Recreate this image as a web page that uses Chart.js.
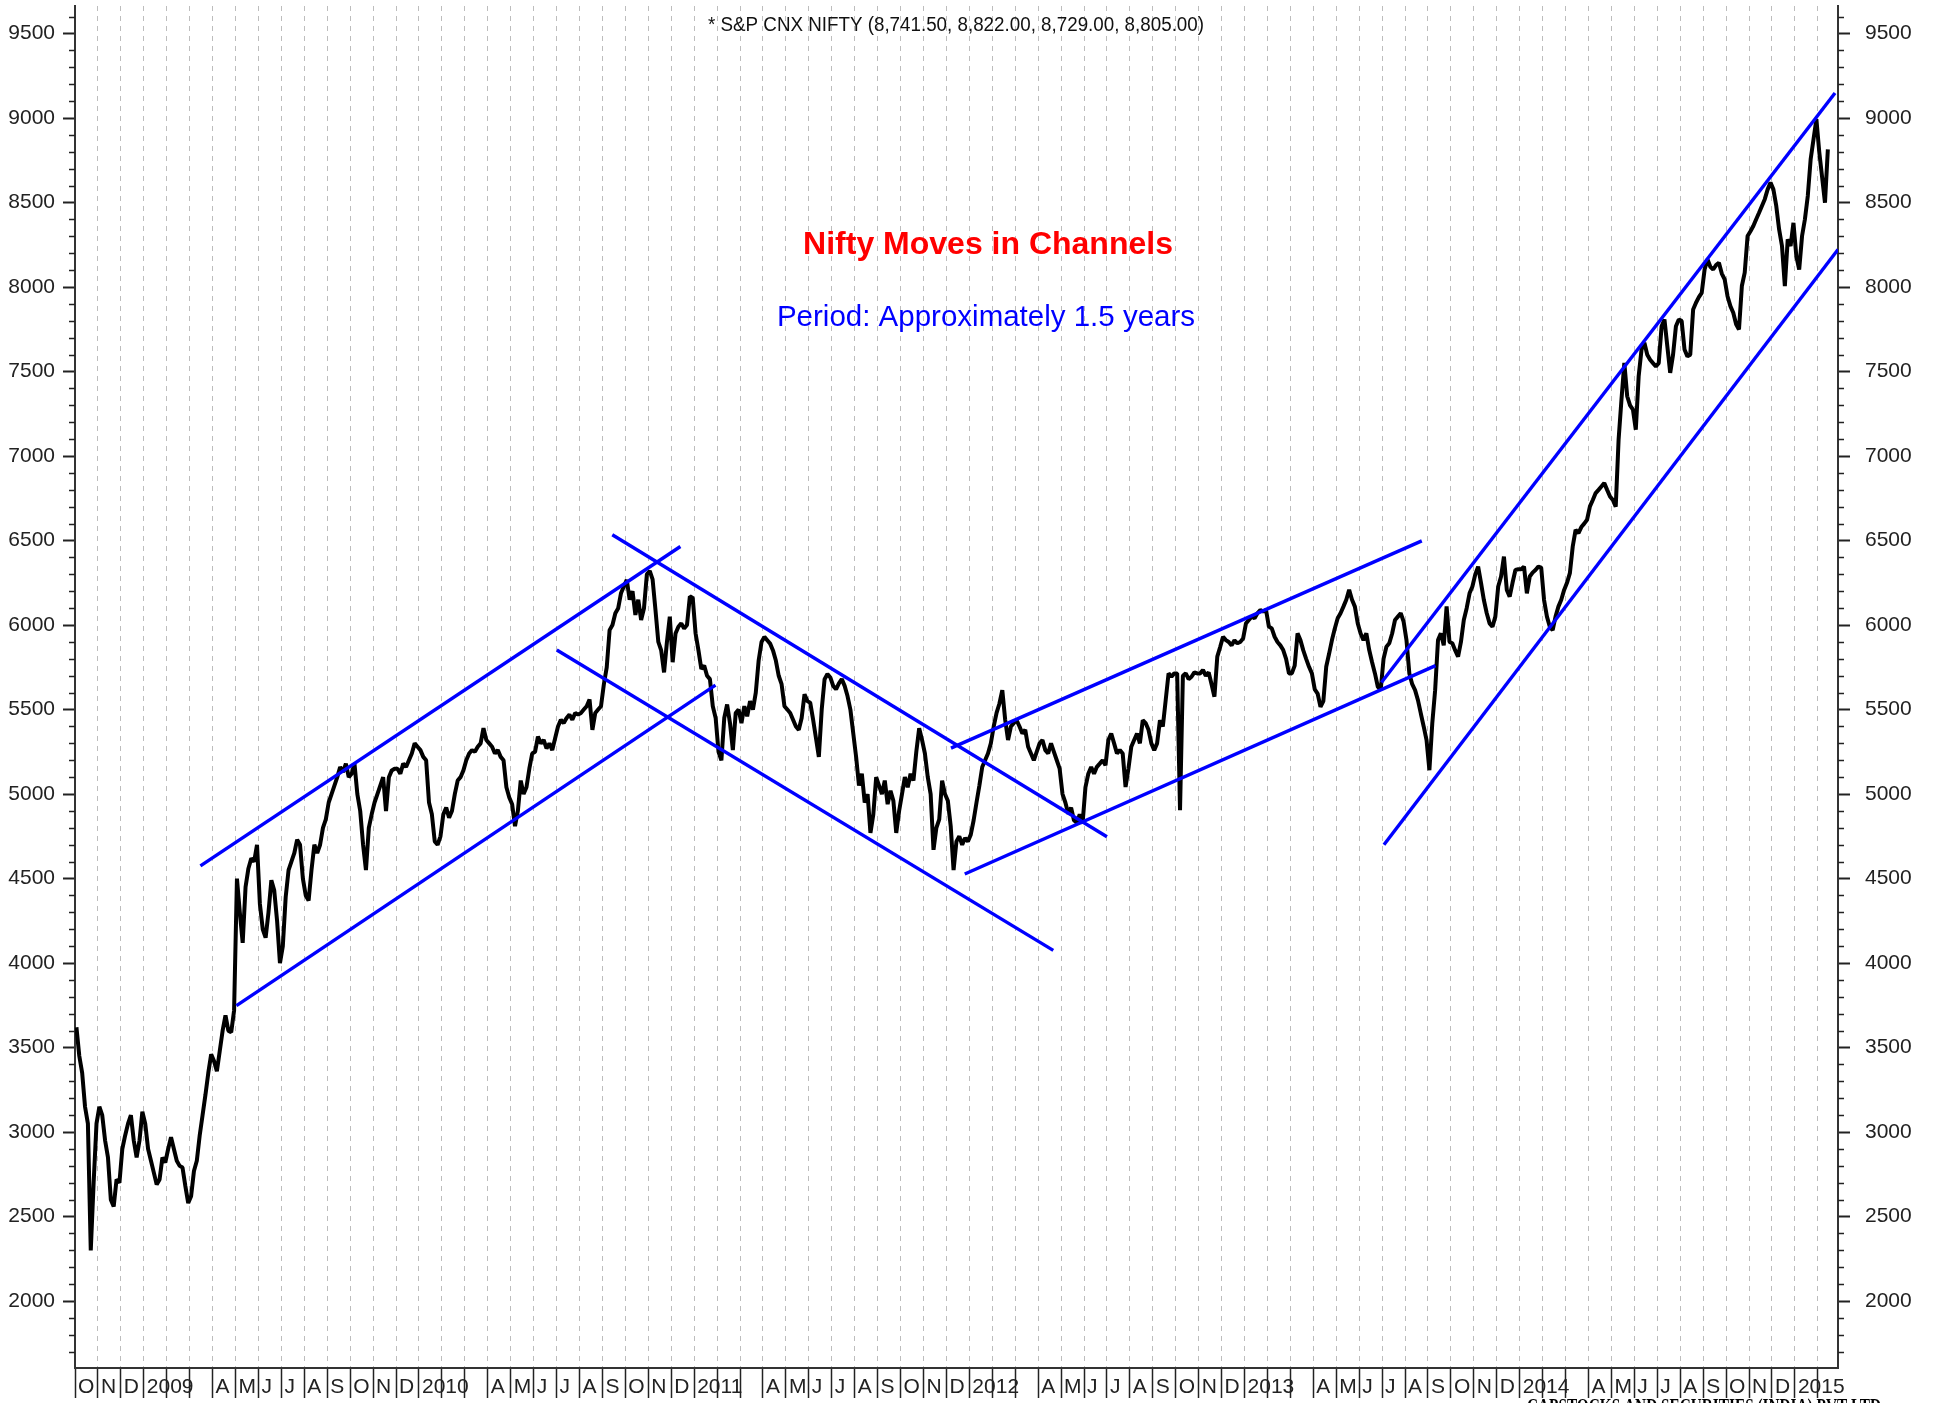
<!DOCTYPE html>
<html>
<head>
<meta charset="utf-8">
<title>Nifty Moves in Channels</title>
<script src="https://cdn.jsdelivr.net/npm/chart.js@4.4.1/dist/chart.umd.min.js"></script>
<style>
  html, body { margin: 0; padding: 0; background: #fff; }
  #wrap { position: relative; width: 1934px; height: 1403px; }
</style>
</head>
<body>
<div id="wrap"><canvas id="myChart"></canvas></div>
<script>
// ----------- DATA ------------
// x unit = month, 0 = start of October 2008. Eight readings per month.
const closes2008 = [
  3620, 3450, 3350, 3150, 3050, 2300, 2700, 3050,
  3150, 3100, 2950, 2850, 2600, 2560, 2720, 2700,
  2900, 2980, 3050, 3100, 2950, 2850, 2950, 3120
];
const closes2009 = [
  3050, 2900, 2830, 2760, 2690, 2720, 2850, 2820,
  2900, 2970, 2900, 2830, 2800, 2790, 2680, 2580,
  2620, 2770, 2830, 2980, 3100, 3220, 3350, 3460,
  3420, 3360, 3480, 3600, 3690, 3600, 3590, 3720,
  4500, 4300, 4120, 4450, 4560, 4620, 4600, 4700,
  4350, 4200, 4150, 4300, 4490, 4430, 4250, 4000,
  4100, 4390, 4550, 4600, 4650, 4730, 4700, 4500,
  4400, 4370, 4550, 4700, 4650, 4700, 4800, 4850,
  4950, 5000, 5050, 5100, 5160, 5130, 5180, 5100,
  5120, 5180, 5000, 4900, 4700, 4550, 4800, 4880,
  4950, 5000, 5050, 5100, 4900, 5100, 5140, 5150,
  5150, 5120, 5180, 5160, 5200, 5240, 5300, 5280
];
const closes2010 = [
  5260, 5220, 5200, 4950, 4880, 4720, 4700, 4750,
  4880, 4920, 4860, 4900, 5000, 5080, 5100, 5140,
  5200, 5240, 5260, 5250, 5280, 5300, 5390, 5320,
  5300, 5280, 5240, 5260, 5220, 5200, 5040, 4980,
  4940, 4810, 4900, 5080, 5000, 5040, 5150, 5240,
  5250, 5340, 5300, 5320, 5270, 5300, 5260, 5330,
  5400, 5440, 5420, 5450, 5470, 5440, 5480, 5470,
  5480, 5500, 5520, 5560, 5380, 5480, 5500, 5520,
  5650, 5750, 5970, 6000, 6070, 6100, 6190, 6230,
  6267, 6150, 6200, 6060, 6150, 6030, 6100, 6300,
  6320, 6270, 6090, 5900, 5850, 5720, 5900, 6050,
  5780, 5950, 5990, 6010, 5980, 6000, 6170, 6160
];
const closes2011 = [
  5950, 5850, 5740, 5760, 5700, 5680, 5520, 5450,
  5250, 5200, 5450, 5530, 5420, 5260, 5480, 5500,
  5420, 5520, 5460, 5550, 5500, 5600, 5790, 5900,
  5930, 5910, 5890, 5850, 5790, 5700, 5650, 5520,
  5500, 5480, 5440, 5400, 5380, 5450, 5590, 5550,
  5540, 5440, 5330, 5220, 5500, 5680, 5710, 5690,
  5640, 5620, 5655, 5680, 5640, 5580, 5500, 5360,
  5220, 5050, 5120, 4950, 5000, 4770, 4880, 5100,
  5050, 5000, 5080, 4940, 5020, 4960, 4770, 4900,
  5000, 5100, 5040, 5120, 5080, 5250, 5390, 5320,
  5240, 5100, 5000, 4670, 4800, 4850, 5080, 5000,
  4960, 4810, 4550, 4720, 4750, 4700, 4740, 4720
];
const closes2012 = [
  4760, 4845, 4950, 5050, 5160, 5200, 5240, 5300,
  5400, 5480, 5536, 5615, 5440, 5320, 5400, 5420,
  5437, 5400, 5358, 5380, 5280, 5240, 5200, 5250,
  5300, 5320, 5260, 5240, 5300, 5250, 5200, 5150,
  5000, 4950, 4884, 4920, 4845, 4830, 4880, 4825,
  5040, 5120, 5160, 5120, 5161, 5180, 5200, 5170,
  5320, 5358, 5300, 5240, 5260, 5240, 5042, 5150,
  5280, 5320, 5358, 5300, 5437, 5420, 5380, 5300,
  5260, 5300, 5437, 5400, 5556, 5714, 5694, 5714,
  5714, 4904, 5700, 5714, 5680, 5694, 5720, 5714,
  5714, 5734, 5700, 5720, 5650, 5576, 5813, 5870,
  5931, 5911, 5900, 5880, 5910, 5892, 5900, 5920
];
const closes2013 = [
  6010, 6030, 6050, 6040, 6070, 6089, 6080, 6089,
  5991, 5980, 5931, 5900, 5880, 5852, 5800, 5714,
  5714, 5760, 5951, 5911, 5850, 5800, 5753, 5714,
  5620, 5595, 5516, 5550, 5753, 5830, 5911, 5980,
  6040, 6070, 6109, 6150, 6208, 6150, 6109, 6010,
  5950, 5911, 5951, 5852, 5780, 5714, 5635, 5615,
  5800, 5872, 5892, 5950, 6030, 6050, 6070, 6020,
  5911, 5714, 5650, 5615, 5556, 5477, 5400, 5319,
  5141, 5418, 5615, 5911, 5951, 5880, 6110, 5900,
  5892, 5850, 5813, 5900, 6030, 6100, 6188, 6228,
  6300, 6346, 6250, 6148, 6070, 6010, 5990, 6050,
  6228, 6287, 6405, 6208, 6168, 6250, 6326, 6330
];
const closes2014 = [
  6330, 6346, 6188, 6287, 6310, 6326, 6346, 6340,
  6148, 6050, 5990, 5970, 6050, 6109, 6150, 6208,
  6250, 6307, 6465, 6563, 6544, 6580, 6600, 6623,
  6702, 6740, 6781, 6800, 6820, 6840, 6800, 6761,
  6740, 6700, 7097, 7334, 7551, 7354, 7300, 7275,
  7156, 7472, 7630, 7670, 7600, 7570, 7550, 7531,
  7550, 7768, 7808, 7650, 7492, 7600, 7768, 7808,
  7800, 7630, 7590, 7600, 7867, 7907, 7940, 7966,
  8104, 8164, 8120, 8104, 8130, 8144, 8080, 8045,
  7946, 7887, 7848, 7780, 7749, 8006, 8085, 8302,
  8330, 8361, 8401, 8440, 8480, 8520, 8578, 8618,
  8578, 8480, 8341, 8243, 8006, 8282, 8243, 8380
];
const closes2015 = [
  8183, 8104, 8302, 8401, 8539, 8756, 8875, 8993,
  8800, 8650, 8499, 8815
];
const yearSeries = [closes2008, closes2009, closes2010, closes2011, closes2012, closes2013, closes2014, closes2015];
const yearStartMonth = [0, 3, 15, 27, 39, 51, 63, 75];
const readingsPerMonth = 8;

// channel lines (month, value) at both ends
const chanFromM = [5.47, 7.04, 23.43, 21.01, 38.2, 38.8, 56.97, 57.08];
const chanFromV = [4575, 3748, 6534, 5852, 5272, 4527, 5660, 4700];
const chanToM   = [26.4, 27.93, 45.0, 42.66, 58.73, 59.33, 76.75, 76.88];
const chanToV   = [6465, 5645, 4747, 4075, 6498, 5760, 9148, 8222];

// axis labels
const monthLetters = ['J', 'F', 'M', 'A', 'M', 'J', 'J', 'A', 'S', 'O', 'N', 'D'];
const firstMonth = 9;      // October
const firstYear = 2008;
const monthCount = 77;
const xMax = 76.88;
const yMin = 1604;
const yMax = 9663;
const yLabelValues = [2000, 2500, 3000, 3500, 4000, 4500, 5000, 5500, 6000, 6500, 7000, 7500, 8000, 8500, 9000, 9500];

const titleText = '* S&P CNX NIFTY (8,741.50, 8,822.00, 8,729.00, 8,805.00)';
const headText = 'Nifty Moves in Channels';
const subText = 'Period: Approximately 1.5 years';
const footText = 'CAPSTOCKS AND SECURITIES (INDIA) PVT LTD';

const NARROW = '"Liberation Sans Narrow", "Liberation Sans", Arial, sans-serif';

// ----------- HELPERS ------------
function priceSeries() {
  const pts = [];
  yearSeries.forEach((arr, yi) => {
    arr.forEach((v, i) => {
      pts.push({x: yearStartMonth[yi] + (i + 0.5) / readingsPerMonth, y: v});
    });
  });
  return pts;
}

function monthLabel(m) {
  const cal = (firstMonth + m) % 12;
  const yr = firstYear + Math.floor((firstMonth + m) / 12);
  if (cal === 0) return String(yr);
  if (cal === 1 || cal === 2) return '';
  return monthLetters[cal];
}

const monthTicks = [];
for (let i = 0; i < monthCount; i++) monthTicks.push(i);

// no label overhang padding, so the plot area keeps its place
function noPad(s) {
  s.paddingTop = 0; s.paddingBottom = 0; s.paddingLeft = 0; s.paddingRight = 0;
}

// minor y ticks every 100 on both axes
const minorTicks = {
  id: 'minorTicks',
  afterDraw(chart) {
    const {ctx, chartArea} = chart;
    const ys = chart.scales.y;
    ctx.save();
    ctx.strokeStyle = '#222';
    ctx.lineWidth = 1.5;
    for (let v = Math.ceil(ys.min / 100) * 100; v <= ys.max; v += 100) {
      if (v % 500 === 0) continue;
      const py = Math.round(ys.getPixelForValue(v)) + 0.5;
      ctx.beginPath();
      ctx.moveTo(chartArea.left - 6, py); ctx.lineTo(chartArea.left, py);
      ctx.moveTo(chartArea.right, py); ctx.lineTo(chartArea.right + 6, py);
      ctx.stroke();
    }
    ctx.restore();
  }
};

const texts = {
  id: 'texts',
  afterDraw(chart) {
    const ctx = chart.ctx;
    ctx.save();
    ctx.textAlign = 'center';
    ctx.textBaseline = 'middle';
    ctx.fillStyle = '#111';
    ctx.font = '20px ' + NARROW;
    ctx.fillText(titleText, 956, 25, 496);
    ctx.fillStyle = '#ff0000';
    ctx.font = 'bold 32px "Liberation Sans", Arial, sans-serif';
    ctx.fillText(headText, 988, 245, 378);
    ctx.fillStyle = '#0000ff';
    ctx.font = '29.5px "Liberation Sans", Arial, sans-serif';
    ctx.fillText(subText, 986, 318, 421);
    ctx.fillStyle = '#000';
    ctx.textBaseline = 'top';
    ctx.font = 'bold 22px "Liberation Serif", serif';
    ctx.fillText(footText, 1704, 1396, 354);
    ctx.restore();
  }
};

// ----------- CHART ------------
function chart_layout() {
  const datasets = [];
  for (let i = 0; i < chanFromM.length; i++) {
    datasets.push({
      label: 'channel ' + (i + 1),
      data: [{x: chanFromM[i], y: chanFromV[i]}, {x: chanToM[i], y: chanToV[i]}],
      borderColor: '#0000ff',
      borderWidth: 3.4,
      pointRadius: 0,
      order: 1
    });
  }
  datasets.push({
    label: 'Nifty',
    data: priceSeries(),
    borderColor: '#000',
    borderWidth: 4,
    borderJoinStyle: 'bevel',
    pointRadius: 0,
    tension: 0,
    order: 2
  });

  const yCommon = (pos, pad, w) => ({
    position: pos,
    min: yMin,
    max: yMax,
    afterBuildTicks: s => { s.ticks = yLabelValues.map(v => ({value: v})); },
    ticks: { color: '#222', padding: pad, font: {size: 21, family: NARROW}, callback: v => String(v) },
    grid: { drawOnChartArea: false, tickLength: 12, tickColor: '#222', tickWidth: 2 },
    border: { color: '#333', width: 2 },
    afterFit: s => { s.width = w; noPad(s); }
  });

  new Chart(document.getElementById('myChart'), {
    type: 'line',
    data: { datasets: datasets },
    options: {
      responsive: true,
      maintainAspectRatio: false,
      devicePixelRatio: 1,
      animation: false,
      layout: { padding: { top: 6, left: 0, right: 0, bottom: 0 } },
      plugins: { legend: { display: false }, tooltip: { enabled: false } },
      scales: {
        x: {
          type: 'linear',
          min: 0,
          max: xMax,
          afterBuildTicks: s => { s.ticks = monthTicks.map(v => ({value: v})); },
          ticks: {
            autoSkip: false, maxRotation: 0, minRotation: 0,
            align: 'start', labelOffset: 3, padding: -23,
            color: '#222', font: {size: 21, family: NARROW},
            callback: v => monthLabel(v)
          },
          grid: { color: '#bdbdbd', lineWidth: 1, tickColor: '#222', tickLength: 30, tickWidth: 1.5 },
          border: { color: '#333', width: 2, dash: [5, 5] },
          afterFit: s => { s.height = 35; noPad(s); }
        },
        y: yCommon('left', 8, 75),
        y2: yCommon('right', 15, 96)
      }
    },
    plugins: [minorTicks, texts]
  });
}

document.addEventListener('DOMContentLoaded', function() {
  chart_layout();
});
</script>
</body>
</html>
